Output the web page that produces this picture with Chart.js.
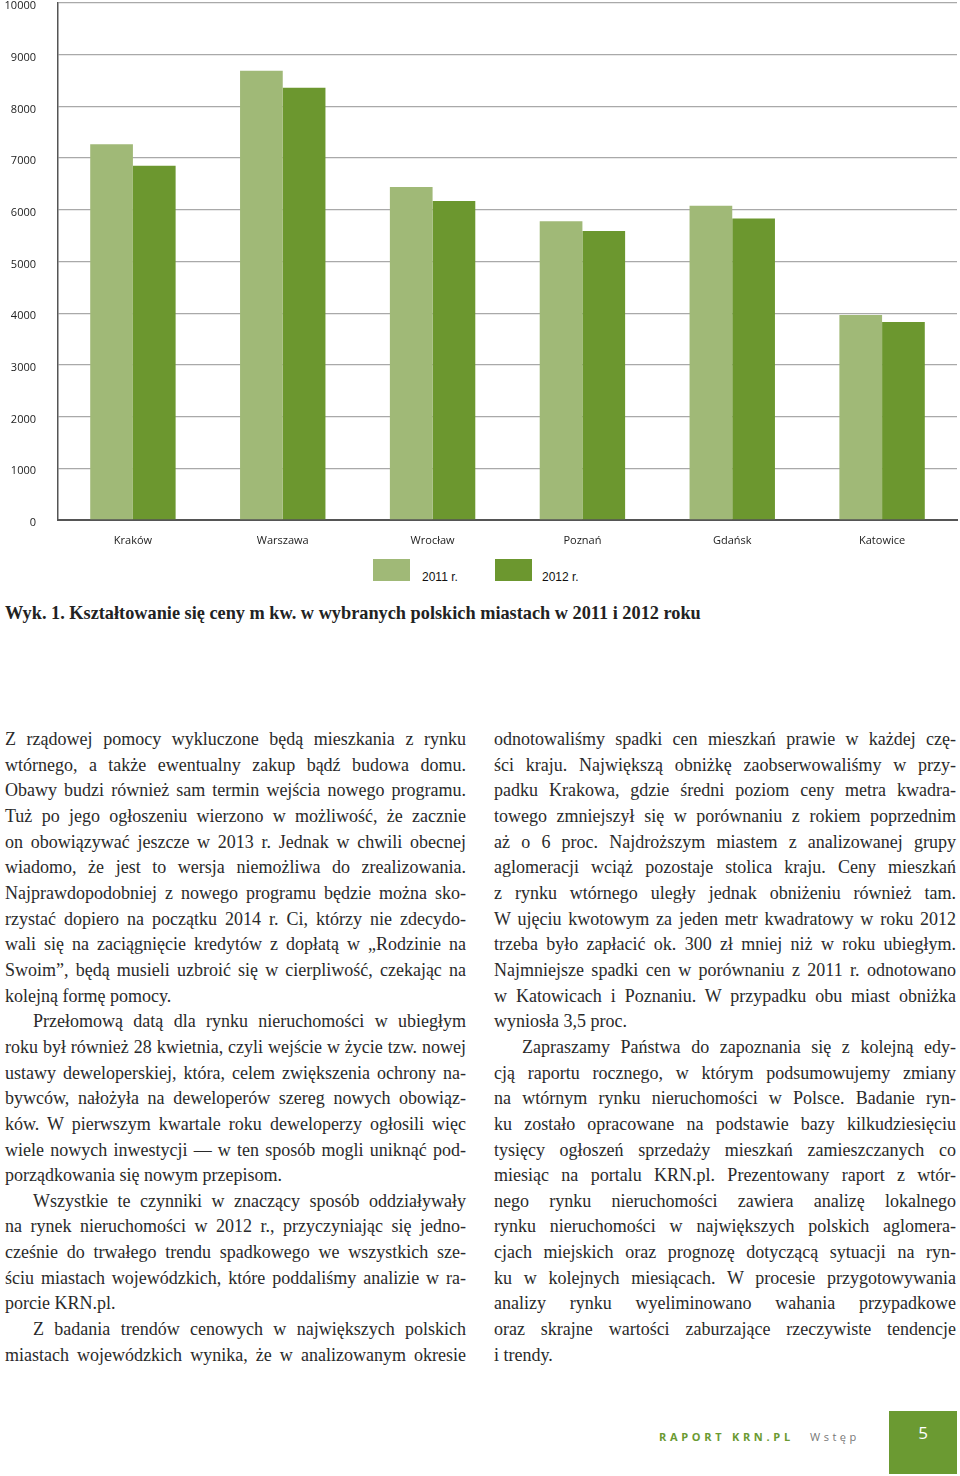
<!DOCTYPE html>
<html lang="pl">
<head>
<meta charset="utf-8">
<title>Wyk. 1. Kształtowanie się ceny m kw.</title>
<script src="https://cdn.jsdelivr.net/npm/chart.js@4/dist/chart.umd.min.js"></script>
<style>
  html, body { margin: 0; padding: 0; background: #fff; }
  .page { position: relative; width: 960px; height: 1476px; overflow: hidden; }
  .chart-box { position: absolute; left: 0; top: 0; width: 960px; height: 552px; }
  .legend-swatch { position: absolute; width: 37px; height: 22px; }
  .legend-text { position: absolute; font: 12px "Liberation Sans", Arial, sans-serif; color: #111; line-height: 14px; }
  .caption { position: absolute; left: 5px; top: 602px; font: bold 18.3px "Liberation Serif", "Times New Roman", serif; line-height: 22px; color: #222; white-space: nowrap; }
  .col { position: absolute; top: 727px; font: 18px "Liberation Serif", "Times New Roman", serif; line-height: 25.67px; color: #2a2a2a; }
  .col .ln { height: 25.67px; text-align: justify; text-align-last: justify; white-space: nowrap; overflow: visible; }
  .col .ln.end { text-align-last: left; }
  .col .ln.ind { text-indent: 28px; }
  .footer-brand { position: absolute; left: 659px; top: 1429px; font: bold 11px "Open Sans", sans-serif; letter-spacing: 3.7px; color: #6b9a32; }
  .footer-sec { position: absolute; left: 810px; top: 1429px; font: 11px "Open Sans", sans-serif; letter-spacing: 3.5px; color: #777; }
  .page-no { position: absolute; left: 889px; top: 1411px; width: 68px; height: 63px; background: #6b9a32; color: #fff; font: 17px "Open Sans", sans-serif; text-align: center; line-height: 44px; }
</style>
</head>
<body>
<div class="page">
  <div class="chart-box"><canvas id="chart1"></canvas></div>

  <div class="legend-swatch" id="sw1" style="left:373px; top:559px;"></div>
  <div class="legend-text" id="lt1" style="left:422px; top:570px;"></div>
  <div class="legend-swatch" id="sw2" style="left:495px; top:559px;"></div>
  <div class="legend-text" id="lt2" style="left:542px; top:570px;"></div>

  <div class="caption">Wyk. 1. Kształtowanie się ceny m kw. w wybranych polskich miastach w 2011 i 2012 roku</div>

  <div class="col" id="colLeft" style="left:5px; width:461px;"></div>
  <div class="col" id="colRight" style="left:494px; width:462px;"></div>

  <div class="footer-brand">RAPORT KRN.PL</div>
  <div class="footer-sec">Wstęp</div>
  <div class="page-no">5</div>
</div>

<script>
// chart data
const cities = ['Kraków', 'Warszawa', 'Wrocław', 'Poznań', 'Gdańsk', 'Katowice'];
const prices2011 = [7270, 8690, 6440, 5780, 6080, 3965];
const prices2012 = [6850, 8360, 6170, 5590, 5830, 3830];
const seriesNames = ['2011 r.', '2012 r.'];
const yTicks = [0, 1000, 2000, 3000, 4000, 5000, 6000, 7000, 8000, 9000, 10000];

const lightGreen = '#a0b977';
const darkGreen = '#6c972f';

// legend (html)
document.getElementById('sw1').style.background = lightGreen;
document.getElementById('sw2').style.background = darkGreen;
document.getElementById('lt1').textContent = seriesNames[0];
document.getElementById('lt2').textContent = seriesNames[1];

const ctx = document.getElementById('chart1');
new Chart(ctx, {
  type: 'bar',
  data: {
    labels: cities,
    datasets: [
      { label: seriesNames[0], data: prices2011, backgroundColor: lightGreen, borderWidth: 0 },
      { label: seriesNames[1], data: prices2012, backgroundColor: darkGreen, borderWidth: 0 }
    ]
  },
  options: {
    responsive: true,
    maintainAspectRatio: false,
    animation: false,
    layout: { padding: { top: 3, right: 3, left: 0, bottom: 0 } },
    plugins: {
      legend: { display: false },
      tooltip: { enabled: false }
    },
    datasets: { bar: { categoryPercentage: 0.57, barPercentage: 1.0 } },
    scales: {
      x: {
        grid: { display: false, drawTicks: false },
        border: { display: true, color: '#555', width: 2 },
        ticks: { color: '#222', font: { family: '"Open Sans", sans-serif', size: 11 }, padding: 14, maxRotation: 0 },
        afterFit: (scale) => { scale.height = 32; }
      },
      y: {
        min: 0,
        max: 10000,
        afterBuildTicks: (scale) => { scale.ticks = yTicks.map(v => ({ value: v })); },
        grid: { color: '#a9a9a9', lineWidth: 1.3, drawTicks: false },
        border: { display: true, color: '#555', width: 1.5 },
        ticks: {
          color: '#222',
          font: { family: '"Open Sans", sans-serif', size: 11 },
          padding: 22,
          labelOffset: 3,
          callback: (value) => String(value)
        },
        afterFit: (scale) => { scale.width = 58; scale.paddingTop = 0; scale.paddingBottom = 0; }
      }
    }
  }
});

// page text
const leftLines = [
  ['Z rządowej pomocy wykluczone będą mieszkania z rynku', ''],
  ['wtórnego, a także ewentualny zakup bądź budowa domu.', ''],
  ['Obawy budzi również sam termin wejścia nowego programu.', ''],
  ['Tuż po jego ogłoszeniu wierzono w możliwość, że zacznie', ''],
  ['on obowiązywać jeszcze w 2013 r. Jednak w chwili obecnej', ''],
  ['wiadomo, że jest to wersja niemożliwa do zrealizowania.', ''],
  ['Najprawdopodobniej z nowego programu będzie można sko-', ''],
  ['rzystać dopiero na początku 2014 r. Ci, którzy nie zdecydo-', ''],
  ['wali się na zaciągnięcie kredytów z dopłatą w „Rodzinie na', ''],
  ['Swoim”, będą musieli uzbroić się w cierpliwość, czekając na', ''],
  ['kolejną formę pomocy.', 'end'],
  ['Przełomową datą dla rynku nieruchomości w ubiegłym', 'ind'],
  ['roku był również 28 kwietnia, czyli wejście w życie tzw. nowej', ''],
  ['ustawy deweloperskiej, która, celem zwiększenia ochrony na-', ''],
  ['bywców, nałożyła na deweloperów szereg nowych obowiąz-', ''],
  ['ków. W pierwszym kwartale roku deweloperzy ogłosili więc', ''],
  ['wiele nowych inwestycji — w ten sposób mogli uniknąć pod-', ''],
  ['porządkowania się nowym przepisom.', 'end'],
  ['Wszystkie te czynniki w znaczący sposób oddziaływały', 'ind'],
  ['na rynek nieruchomości w 2012 r., przyczyniając się jedno-', ''],
  ['cześnie do trwałego trendu spadkowego we wszystkich sze-', ''],
  ['ściu miastach wojewódzkich, które poddaliśmy analizie w ra-', ''],
  ['porcie KRN.pl.', 'end'],
  ['Z badania trendów cenowych w największych polskich', 'ind'],
  ['miastach wojewódzkich wynika, że w analizowanym okresie', '']
];
const rightLines = [
  ['odnotowaliśmy spadki cen mieszkań prawie w każdej czę-', ''],
  ['ści kraju. Największą obniżkę zaobserwowaliśmy w przy-', ''],
  ['padku Krakowa, gdzie średni poziom ceny metra kwadra-', ''],
  ['towego zmniejszył się w porównaniu z rokiem poprzednim', ''],
  ['aż o 6 proc. Najdroższym miastem z analizowanej grupy', ''],
  ['aglomeracji wciąż pozostaje stolica kraju. Ceny mieszkań', ''],
  ['z rynku wtórnego uległy jednak obniżeniu również tam.', ''],
  ['W ujęciu kwotowym za jeden metr kwadratowy w roku 2012', ''],
  ['trzeba było zapłacić ok. 300 zł mniej niż w roku ubiegłym.', ''],
  ['Najmniejsze spadki cen w porównaniu z 2011 r. odnotowano', ''],
  ['w Katowicach i Poznaniu. W przypadku obu miast obniżka', ''],
  ['wyniosła 3,5 proc.', 'end'],
  ['Zapraszamy Państwa do zapoznania się z kolejną edy-', 'ind'],
  ['cją raportu rocznego, w którym podsumowujemy zmiany', ''],
  ['na wtórnym rynku nieruchomości w Polsce. Badanie ryn-', ''],
  ['ku zostało opracowane na podstawie bazy kilkudziesięciu', ''],
  ['tysięcy ogłoszeń sprzedaży mieszkań zamieszczanych co', ''],
  ['miesiąc na portalu KRN.pl. Prezentowany raport z wtór-', ''],
  ['nego rynku nieruchomości zawiera analizę lokalnego', ''],
  ['rynku nieruchomości w największych polskich aglomera-', ''],
  ['cjach miejskich oraz prognozę dotyczącą sytuacji na ryn-', ''],
  ['ku w kolejnych miesiącach. W procesie przygotowywania', ''],
  ['analizy rynku wyeliminowano wahania przypadkowe', ''],
  ['oraz skrajne wartości zaburzające rzeczywiste tendencje', ''],
  ['i trendy.', 'end']
];

function fillColumn(id, lines) {
  const col = document.getElementById(id);
  lines.forEach(([text, kind]) => {
    const d = document.createElement('div');
    d.className = 'ln' + (kind ? ' ' + kind : '');
    d.textContent = text;
    col.appendChild(d);
  });
}
fillColumn('colLeft', leftLines);
fillColumn('colRight', rightLines);
</script>
</body>
</html>
